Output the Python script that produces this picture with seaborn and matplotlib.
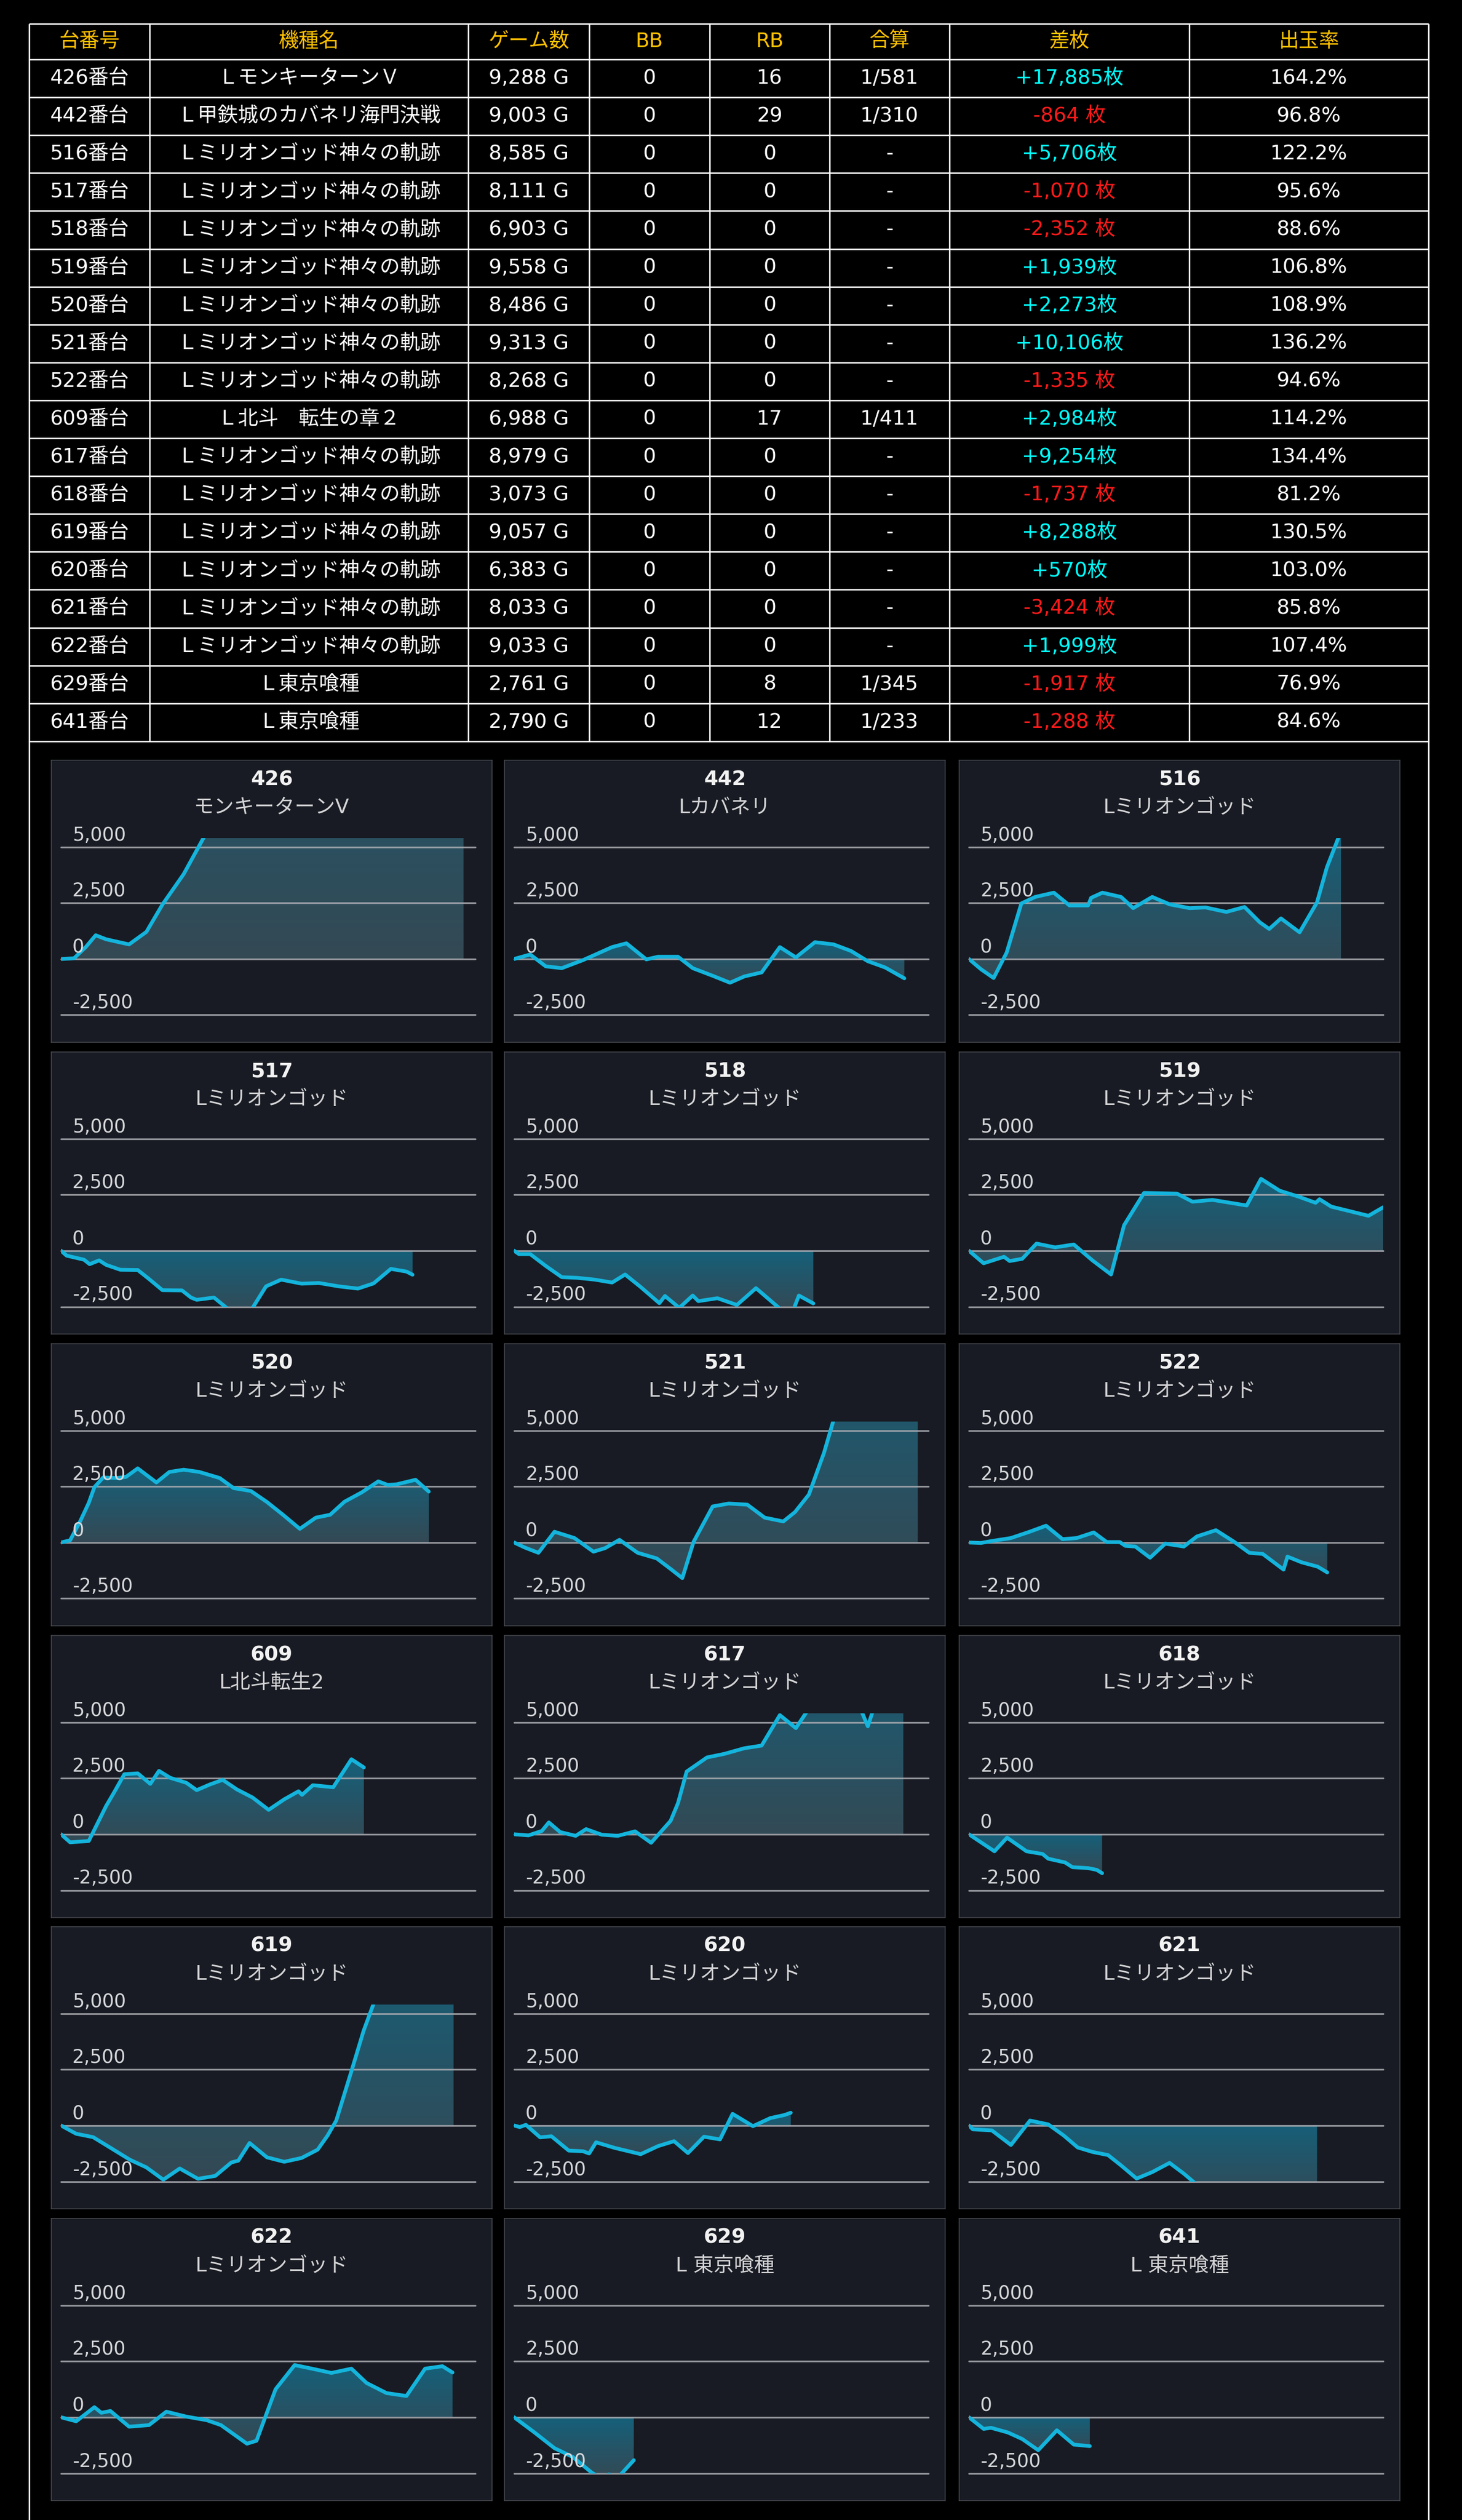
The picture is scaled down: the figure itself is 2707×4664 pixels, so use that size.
import numpy as np
import matplotlib
matplotlib.use("Agg")
import matplotlib.pyplot as plt
import matplotlib.transforms as mtransforms
from matplotlib.colors import LinearSegmentedColormap
import seaborn as sns

sns.set_theme(style="dark")
plt.rcParams['font.family'] = ['DejaVu Sans', 'Noto Sans CJK JP']

# ---- table data ----
units = ['426', '442', '516', '517', '518', '519', '520', '521', '522',
         '609', '617', '618', '619', '620', '621', '622', '629', '641']
names = ['ＬモンキーターンＶ', 'Ｌ甲鉄城のカバネリ海門決戦'] + ['Ｌミリオンゴッド神々の軌跡'] * 7 + \
        ['Ｌ北斗　転生の章２'] + ['Ｌミリオンゴッド神々の軌跡'] * 6 + ['Ｌ東京喰種', 'Ｌ東京喰種']
games = [9288, 9003, 8585, 8111, 6903, 9558, 8486, 9313, 8268,
         6988, 8979, 3073, 9057, 6383, 8033, 9033, 2761, 2790]
bb = [0] * 18
rb = [16, 29, 0, 0, 0, 0, 0, 0, 0, 17, 0, 0, 0, 0, 0, 0, 8, 12]
gassan = ['1/581', '1/310', '-', '-', '-', '-', '-', '-', '-',
          '1/411', '-', '-', '-', '-', '-', '-', '1/345', '1/233']
diff = [17885, -864, 5706, -1070, -2352, 1939, 2273, 10106, -1335,
        2984, 9254, -1737, 8288, 570, -3424, 1999, -1917, -1288]
rate = [164.2, 96.8, 122.2, 95.6, 88.6, 106.8, 108.9, 136.2, 94.6,
        114.2, 134.4, 81.2, 130.5, 103.0, 85.8, 107.4, 76.9, 84.6]
headers = ['台番号', '機種名', 'ゲーム数', 'BB', 'RB', '合算', '差枚', '出玉率']
short_names = ['モンキーターンV', 'Lカバネリ'] + ['Lミリオンゴッド'] * 7 + ['L北斗転生2'] + \
              ['Lミリオンゴッド'] * 6 + ['L 東京喰種', 'L 東京喰種']

# ---- slump curves (games, coin difference) ----
g426 = [0, 300, 570, 800, 1040, 1570, 1970, 2340, 2830, 3400, 9288]
v426 = [0, 30, 530, 1060, 880, 650, 1210, 2430, 3790, 5800, 17885]
g442 = [0, 370, 730, 1100, 1590, 2260, 2590, 3050, 3320, 3780, 4120, 4580, 4980, 5310, 5710, 6130,
        6500, 6940, 7370, 7770, 8160, 8560, 9003]
v442 = [0, 200, -330, -410, -50, 530, 700, -20, 100, 100, -410, -750, -1060, -780, -600, 530,
        70, 750, 650, 360, -100, -380, -864]
g516 = [0, 280, 570, 870, 1210, 1530, 1960, 2320, 2750, 2820, 3080, 3510, 3790, 4230, 4630, 5090,
        5460, 5940, 6360, 6710, 6930, 7200, 7630, 8030, 8260, 8585]
v516 = [0, -460, -850, 280, 2480, 2770, 2960, 2390, 2390, 2730, 2960, 2770, 2270, 2770, 2440, 2270,
        2300, 2100, 2320, 1640, 1340, 1810, 1190, 2520, 4090, 5706]
g517 = [0, 130, 530, 660, 880, 1040, 1370, 1770, 2030, 2340, 2790, 3000, 3130, 3530, 3820, 4130,
        4420, 4730, 5080, 5550, 5950, 6410, 6850, 7210, 7610, 7970, 8111]
v517 = [0, -220, -400, -600, -430, -630, -850, -860, -1260, -1760, -1770, -2090, -2190, -2090, -2550, -2900,
        -2550, -1590, -1290, -1470, -1440, -1590, -1690, -1460, -810, -930, -1070]
g518 = [0, 110, 370, 730, 1100, 1460, 1860, 2260, 2560, 2920, 3350, 3480, 3810, 4120, 4250, 4690,
        5140, 5580, 6170, 6440, 6570, 6903]
v518 = [0, -150, -150, -680, -1180, -1210, -1290, -1420, -1060, -1620, -2340, -2020, -2550, -2000, -2250, -2120,
        -2420, -1670, -2650, -2650, -2000, -2352]
g519 = [0, 340, 810, 940, 1230, 1560, 1990, 2420, 2850, 3280, 3580, 4040, 4800, 5160, 5620, 6410,
        6740, 7170, 7600, 8000, 8090, 8360, 9220, 9558]
v519 = [0, -560, -270, -460, -360, 320, 150, 280, -430, -1060, 1140, 2580, 2550, 2190, 2270, 2020,
        3210, 2680, 2420, 2140, 2300, 1970, 1560, 1939]
g520 = [0, 210, 440, 640, 770, 970, 1300, 1500, 1770, 2200, 2500, 2830, 3190, 3660, 3980, 4380,
        4750, 5120, 5510, 5880, 6210, 6540, 6940, 7320, 7540, 7750, 8180, 8486]
v520 = [0, 100, 940, 1770, 2470, 2900, 2880, 2930, 3310, 2680, 3150, 3250, 3150, 2880, 2430, 2300,
        1810, 1240, 610, 1110, 1240, 1820, 2240, 2730, 2570, 2600, 2800, 2273]
g521 = [0, 240, 560, 930, 1390, 1830, 2100, 2430, 2850, 3290, 3610, 3880, 4140, 4580, 4950, 5380,
        5780, 6210, 6480, 6800, 7150, 7420, 9313]
v521 = [0, -220, -460, 480, 200, -410, -250, 120, -460, -710, -1180, -1590, 30, 1610, 1740, 1690,
        1110, 940, 1360, 2140, 4010, 5800, 10106]
g522 = [0, 280, 540, 970, 1400, 1780, 2160, 2490, 2880, 3180, 3480, 3610, 3840, 4180, 4530, 4960,
        5260, 5700, 6120, 6470, 6780, 7260, 7350, 7670, 8050, 8268]
v522 = [0, -20, 70, 200, 480, 750, 150, 200, 450, 20, 20, -150, -180, -680, -50, -180,
        270, 550, 30, -460, -510, -1210, -630, -880, -1080, -1335]
g609 = [0, 210, 640, 840, 1040, 1230, 1460, 1770, 2060, 2260, 2520, 2890, 3130, 3430, 3730, 4060,
        4420, 4790, 5150, 5480, 5560, 5810, 6280, 6700, 6988]
v609 = [0, -360, -300, 480, 1260, 1890, 2680, 2720, 2250, 2830, 2520, 2300, 1970, 2220, 2430, 2000,
        1640, 1090, 1560, 1920, 1760, 2190, 2100, 3350, 2984]
g617 = [0, 330, 640, 800, 1060, 1420, 1660, 2020, 2390, 2790, 3160, 3610, 3780, 3980, 4450, 4850,
        5310, 5710, 6130, 6500, 6900, 7570, 7970, 8160, 8360, 8979]
v617 = [0, -50, 150, 530, 100, -70, 230, -20, -70, 130, -380, 600, 1390, 2800, 3430, 3590,
        3840, 3960, 5320, 4740, 5900, 6200, 5700, 4820, 6000, 9254]
g618 = [0, 310, 590, 880, 1330, 1700, 1830, 2220, 2390, 2750, 2950, 3073]
v618 = [0, -400, -760, -150, -760, -880, -1090, -1260, -1470, -1510, -1590, -1737]
g619 = [0, 350, 740, 1170, 1590, 1970, 2360, 2740, 3160, 3560, 3930, 4090, 4350, 4750, 5150, 5550,
        5920, 6150, 6350, 6720, 6980, 7300, 9057]
v619 = [0, -370, -520, -1030, -1530, -1870, -2420, -1920, -2380, -2250, -1650, -1570, -780, -1420, -1620, -1450,
        -1080, -450, 220, 2550, 4220, 5900, 8288]
g620 = [0, 130, 270, 600, 860, 1260, 1590, 1730, 1890, 2320, 2920, 3320, 3690, 4010, 4380, 4750,
        5040, 5510, 5910, 6240, 6383]
v620 = [0, -70, 30, -530, -480, -1120, -1150, -1250, -750, -1000, -1280, -920, -700, -1230, -500, -620,
        520, -30, 330, 470, 570]
g621 = [0, 90, 530, 970, 1410, 1830, 2190, 2510, 2850, 3210, 3510, 3870, 4230, 4630, 4960, 5220, 8033]
v621 = [0, -170, -220, -870, 220, 50, -450, -980, -1180, -1320, -1780, -2370, -2080, -1670, -2150, -2580, -3424]
g622 = [0, 350, 770, 930, 1140, 1570, 2030, 2430, 2890, 3360, 3690, 4290, 4510, 4950, 5390, 5840,
        6240, 6700, 7050, 7510, 7970, 8400, 8800, 9033]
v622 = [0, -180, 450, 200, 280, -420, -350, 250, 30, -130, -350, -1180, -1050, 1250, 2330, 2150,
        1980, 2170, 1530, 1080, 950, 2170, 2280, 1999]
g629 = [0, 470, 930, 1350, 1790, 1990, 2190, 2390, 2761]
v629 = [0, -680, -1380, -1770, -2470, -2700, -2550, -2700, -1917]
g641 = [0, 340, 510, 900, 1230, 1600, 2030, 2420, 2790]
v641 = [0, -520, -470, -680, -970, -1470, -580, -1220, -1288]

curves = [(g426, v426), (g442, v442), (g516, v516), (g517, v517), (g518, v518), (g519, v519),
          (g520, v520), (g521, v521), (g522, v522), (g609, v609), (g617, v617), (g618, v618),
          (g619, v619), (g620, v620), (g621, v621), (g622, v622), (g629, v629), (g641, v641)]

y_ticks = [5000, 2500, 0, -2500]

# ---- layout (pixels) ----
W, H, DPI = 2707, 4664, 100
col_edges = [54, 277, 867, 1091, 1314, 1536, 1758, 2202, 2645]
table_top, header_h, row_h = 44, 66, 70.1
panel_left = [95, 934, 1776]
panel_top = [1407, 1947, 2487, 3027, 3566, 4106]
pw, ph = 816, 522

GOLD, CYAN, RED = '#ffc000', '#00ffff', '#ff1a1a'
PANEL_BG = '#181b23'
LINE_C = '#14b4dc'
fill_cmap = LinearSegmentedColormap.from_list('slump', ['#344954', '#15607a'])

fig = plt.figure(figsize=(W / DPI, H / DPI), dpi=DPI, facecolor='black')

# ---- table ----
tab = fig.add_axes([0, 0, 1, 1])
tab.set_xlim(0, W)
tab.set_ylim(H, 0)
tab.set_axis_off()

row_edges = [table_top, table_top + header_h] + [table_top + header_h + row_h * (i + 1) for i in range(len(units))]
table_bottom = row_edges[-1]
tab.hlines(row_edges, col_edges[0], col_edges[-1], color='white', lw=1.9)
tab.vlines(col_edges[1:-1], table_top, table_bottom, color='white', lw=1.9)
tab.vlines([col_edges[0], col_edges[-1]], table_top, H, color='white', lw=1.9)

centers = [(col_edges[i] + col_edges[i + 1]) / 2 for i in range(len(col_edges) - 1)]
fs = 27
hy = table_top + header_h / 2
for cx, h in zip(centers, headers):
    tab.text(cx, hy, h, ha='center', va='center', color=GOLD, fontsize=fs)

for i in range(len(units)):
    cy = row_edges[i + 1] + row_h / 2
    d = diff[i]
    dtxt = f"+{d:,}枚" if d > 0 else f"{d:,} 枚"
    cells = [f"{units[i]}番台", names[i], f"{games[i]:,} G", str(bb[i]), str(rb[i]),
             gassan[i], dtxt, f"{rate[i]:.1f}%"]
    for j, (cx, t) in enumerate(zip(centers, cells)):
        color = 'white'
        if j == 6:
            color = CYAN if d > 0 else RED
        tab.text(cx, cy, t, ha='center', va='center', color=color, fontsize=fs)

# ---- slump panels ----
xmax = max(games)
for k, (gx, vy) in enumerate(curves):
    r, c = divmod(k, 3)
    pl, pt = panel_left[c], panel_top[r]

    bg = fig.add_axes([pl / W, 1 - (pt + ph) / H, pw / W, ph / H])
    bg.set_facecolor(PANEL_BG)
    bg.set_xticks([])
    bg.set_yticks([])
    for s in bg.spines.values():
        s.set_color('#44474e')
        s.set_linewidth(1.2)
    bg.text(0.5, 1 - 36 / ph, units[k], ha='center', va='center', color='#f2f2f2',
            fontsize=27, fontweight='bold', transform=bg.transAxes)
    bg.text(0.5, 1 - 88 / ph, short_names[k], ha='center', va='center', color='#d4d4d6',
            fontsize=27, transform=bg.transAxes)

    left, right = pl + 18, pl + 785
    top, bottom = pt + 144, pt + 471.5
    ax = fig.add_axes([left / W, 1 - bottom / H, (right - left) / W, (bottom - top) / H])
    ax.patch.set_alpha(0)

    poly = ax.fill_between(gx, vy, 0, facecolor='none', edgecolor='none', linewidth=0)
    lo, hi = min(vy), max(vy)
    if hi - lo < 1:
        hi = lo + 1
    img = ax.imshow(np.linspace(0, 1, 256)[:, None], extent=(0, xmax, lo, hi), origin='lower',
                    aspect='auto', cmap=fill_cmap, interpolation='bilinear', zorder=1)
    img.set_clip_path(poly.get_paths()[0], transform=ax.transData)

    for t in y_ticks:
        ax.axhline(t, color='#a8aab0', lw=2.3, alpha=0.85, zorder=2, clip_on=False)

    sns.lineplot(x=gx, y=vy, ax=ax, color=LINE_C, linewidth=5.0, estimator=None, sort=False,
                 zorder=3, solid_joinstyle='round', solid_capstyle='round')

    ax.set_xlim(0, xmax)
    ax.set_ylim(-2500, 5400)
    ax.set_axis_off()

    trans = ax.get_yaxis_transform() + mtransforms.ScaledTranslation(21 / DPI, 12 / DPI, fig.dpi_scale_trans)
    for t in y_ticks:
        ax.text(0, t, f"{t:,}", transform=trans, ha='left', va='baseline', color='#d6d7da',
                fontsize=25, zorder=4, clip_on=False)

fig.savefig('out.png', dpi=DPI, facecolor='black')
